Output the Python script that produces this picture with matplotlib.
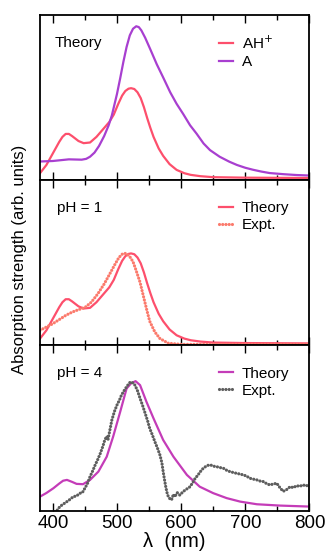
import matplotlib
matplotlib.use('Agg')
import matplotlib.pyplot as plt
import numpy as np

plt.rcParams['font.family'] = ['Liberation Sans', 'DejaVu Sans']

# theory, protonated form AH+ (used in top and middle panels)
wl_ah = [380, 390, 400, 410, 415, 420, 425, 430, 440, 448, 458, 468, 478, 488,
         495, 502, 508, 513, 518, 522, 527, 532, 537, 542, 547, 552, 557, 565, 572,
         582, 593, 605, 615, 630, 650, 700, 800]
abs_ah = [0.04, 0.09, 0.16, 0.23, 0.26, 0.278, 0.278, 0.265, 0.235, 0.222, 0.226,
          0.26, 0.305, 0.35, 0.395, 0.46, 0.51, 0.538, 0.552, 0.555, 0.55, 0.53,
          0.495, 0.44, 0.375, 0.315, 0.26, 0.19, 0.145, 0.095, 0.06, 0.04, 0.03,
          0.022, 0.016, 0.013, 0.011]

# theory, deprotonated form A (top panel)
wl_a = [380, 400, 415, 425, 435, 445, 452, 458, 465, 472, 480, 487, 492, 500, 505,
        510, 515, 520, 525, 530, 534, 538, 544, 552, 562, 572, 583, 593, 603, 614,
        624, 635, 645, 660, 675, 687, 700, 712, 725, 738, 760, 780, 800]
abs_a = [0.111, 0.114, 0.12, 0.124, 0.123, 0.122, 0.127, 0.14, 0.165, 0.205, 0.265,
         0.33, 0.39, 0.52, 0.615, 0.715, 0.805, 0.875, 0.915, 0.93, 0.925, 0.905,
         0.86, 0.79, 0.70, 0.62, 0.53, 0.46, 0.40, 0.33, 0.28, 0.22, 0.18, 0.14,
         0.11, 0.09, 0.073, 0.061, 0.05, 0.041, 0.034, 0.029, 0.026]

# experiment pH = 1
wl_ph1 = [380, 390, 400, 410, 420, 430, 440, 450, 460, 470, 480, 490, 497, 503,
          508, 512, 516, 520, 525, 530, 536, 541, 546, 551, 559, 567, 580, 600,
          650, 800]
abs_ph1 = [0.09, 0.11, 0.13, 0.155, 0.18, 0.20, 0.215, 0.228, 0.26, 0.31, 0.37,
           0.44, 0.49, 0.53, 0.55, 0.556, 0.55, 0.535, 0.505, 0.45, 0.38, 0.30,
           0.22, 0.145, 0.08, 0.04, 0.012, 0.005, 0.005, 0.005]

# theory pH = 4
wl_ph4_th = [380, 390, 401, 410, 416, 422, 430, 437, 447, 458, 471, 484, 494, 505,
             515, 522, 529, 536, 546, 557, 572, 588, 609, 629, 650, 671, 692, 718,
             754, 800]
abs_ph4_th = [0.086, 0.108, 0.137, 0.165, 0.182, 0.187, 0.175, 0.163, 0.161, 0.187,
              0.237, 0.327, 0.448, 0.598, 0.739, 0.77, 0.783, 0.759, 0.658, 0.558,
              0.428, 0.327, 0.217, 0.146, 0.107, 0.077, 0.056, 0.040, 0.032, 0.026]

# experiment pH = 4
wl_ph4_ex = [395, 401, 406, 411, 416, 422, 427, 432, 437, 442, 446, 450, 454, 458,
             462, 466, 470, 474, 478, 481, 484, 486, 488, 492, 496, 500, 504, 507,
             511, 515, 518, 521, 525, 528, 532, 536, 540, 544, 548, 551, 555, 559,
             563, 567, 570, 572, 574, 576, 578, 580, 583, 585, 588, 590, 594, 598,
             603, 608, 614, 618, 622, 626, 630, 634, 638, 642, 646, 650, 655, 660,
             666, 671, 676, 681, 686, 692, 697, 702, 707, 712, 718, 723, 728, 733,
             738, 744, 749, 754, 759, 764, 770, 775, 780, 785, 790, 795, 800]
abs_ph4_ex = [-0.03, -0.01, 0.0, 0.026, 0.04, 0.056, 0.07, 0.086, 0.09, 0.106, 0.11,
              0.137, 0.165, 0.207, 0.24, 0.277, 0.31, 0.347, 0.39, 0.428, 0.45, 0.43,
              0.47, 0.548, 0.60, 0.639, 0.67, 0.699, 0.725, 0.749, 0.765, 0.779,
              0.772, 0.759, 0.725, 0.679, 0.635, 0.588, 0.54, 0.498, 0.46, 0.418,
              0.38, 0.337, 0.29, 0.237, 0.19, 0.146, 0.11, 0.086, 0.07, 0.066, 0.10,
              0.085, 0.11, 0.095, 0.116, 0.13, 0.146, 0.17, 0.197, 0.215, 0.237,
              0.255, 0.267, 0.275, 0.277, 0.27, 0.267, 0.262, 0.257, 0.245, 0.237,
              0.232, 0.227, 0.222, 0.217, 0.21, 0.197, 0.192, 0.187, 0.18, 0.177,
              0.165, 0.157, 0.162, 0.167, 0.14, 0.118, 0.127, 0.146, 0.14, 0.152,
              0.148, 0.157, 0.15, 0.161]

c_ah = '#fd4f6c'
c_a = '#a83fd0'
c_ph1 = '#fb7a6c'
c_ph4 = '#c43cb8'
c_gray = '#5e5e5e'

fig = plt.figure(figsize=(3.32, 5.55), dpi=100)
left, width = 0.1205, 0.8115
ax1 = fig.add_axes([left, 0.676, width, 0.2975])
ax2 = fig.add_axes([left, 0.378, width, 0.298])
ax3 = fig.add_axes([left, 0.0795, width, 0.2985])

dots1 = dict(linestyle=(0, (0.01, 1.0)), dash_capstyle='round', linewidth=2.3)
dots2 = dict(linestyle=(0, (0.01, 1.0)), dash_capstyle='round', linewidth=2.3)

ax1.plot(wl_ah, abs_ah, color=c_ah, lw=1.6, label='AH$^{+}$')
ax1.plot(wl_a, abs_a, color=c_a, lw=1.6, label='A')
ax1.text(0.056, 0.83, 'Theory', transform=ax1.transAxes, fontsize=11, va='center')

ax2.plot(wl_ah, abs_ah, color=c_ah, lw=1.6, label='Theory')
ax2.plot(wl_ph1, abs_ph1, color=c_ph1, label='Expt.', **dots1)
ax2.text(0.063, 0.83, 'pH = 1', transform=ax2.transAxes, fontsize=11, va='center')

ax3.plot(wl_ph4_th, abs_ph4_th, color=c_ph4, lw=1.6, label='Theory')
ax3.plot(wl_ph4_ex, abs_ph4_ex, color=c_gray, label='Expt.', **dots2)
ax3.text(0.063, 0.83, 'pH = 4', transform=ax3.transAxes, fontsize=11, va='center')

for ax, ytop in ((ax1, 0.88), (ax2, 0.87), (ax3, 0.87)):
    ax.set_xlim(380, 800)
    ax.set_ylim(0, 1)
    ax.set_yticks([])
    ax.set_xticks([400, 500, 600, 700, 800])
    ax.set_xticks([450, 550, 650, 750], minor=True)
    ax.tick_params(axis='x', which='both', direction='in', top=True, bottom=True,
                   width=1.0, labelsize=13.5, pad=3)
    ax.tick_params(axis='x', which='major', length=6)
    ax.tick_params(axis='x', which='minor', length=3.5)
    for s in ax.spines.values():
        s.set_linewidth(1.3)
    ax.legend(loc='upper left', bbox_to_anchor=(0.665, ytop), frameon=False,
              handlelength=0.9, handletextpad=0.6, labelspacing=0.2,
              fontsize=11, borderaxespad=0, borderpad=0)

ax1.tick_params(labelbottom=False)
ax2.tick_params(labelbottom=False)
ax3.set_xlabel('λ  (nm)', fontsize=14.5, labelpad=0)
fig.text(0.06, 0.533, 'Absorption strength (arb. units)', rotation=90,
         ha='center', va='center', fontsize=12)

fig.savefig('out.png', dpi=100)
